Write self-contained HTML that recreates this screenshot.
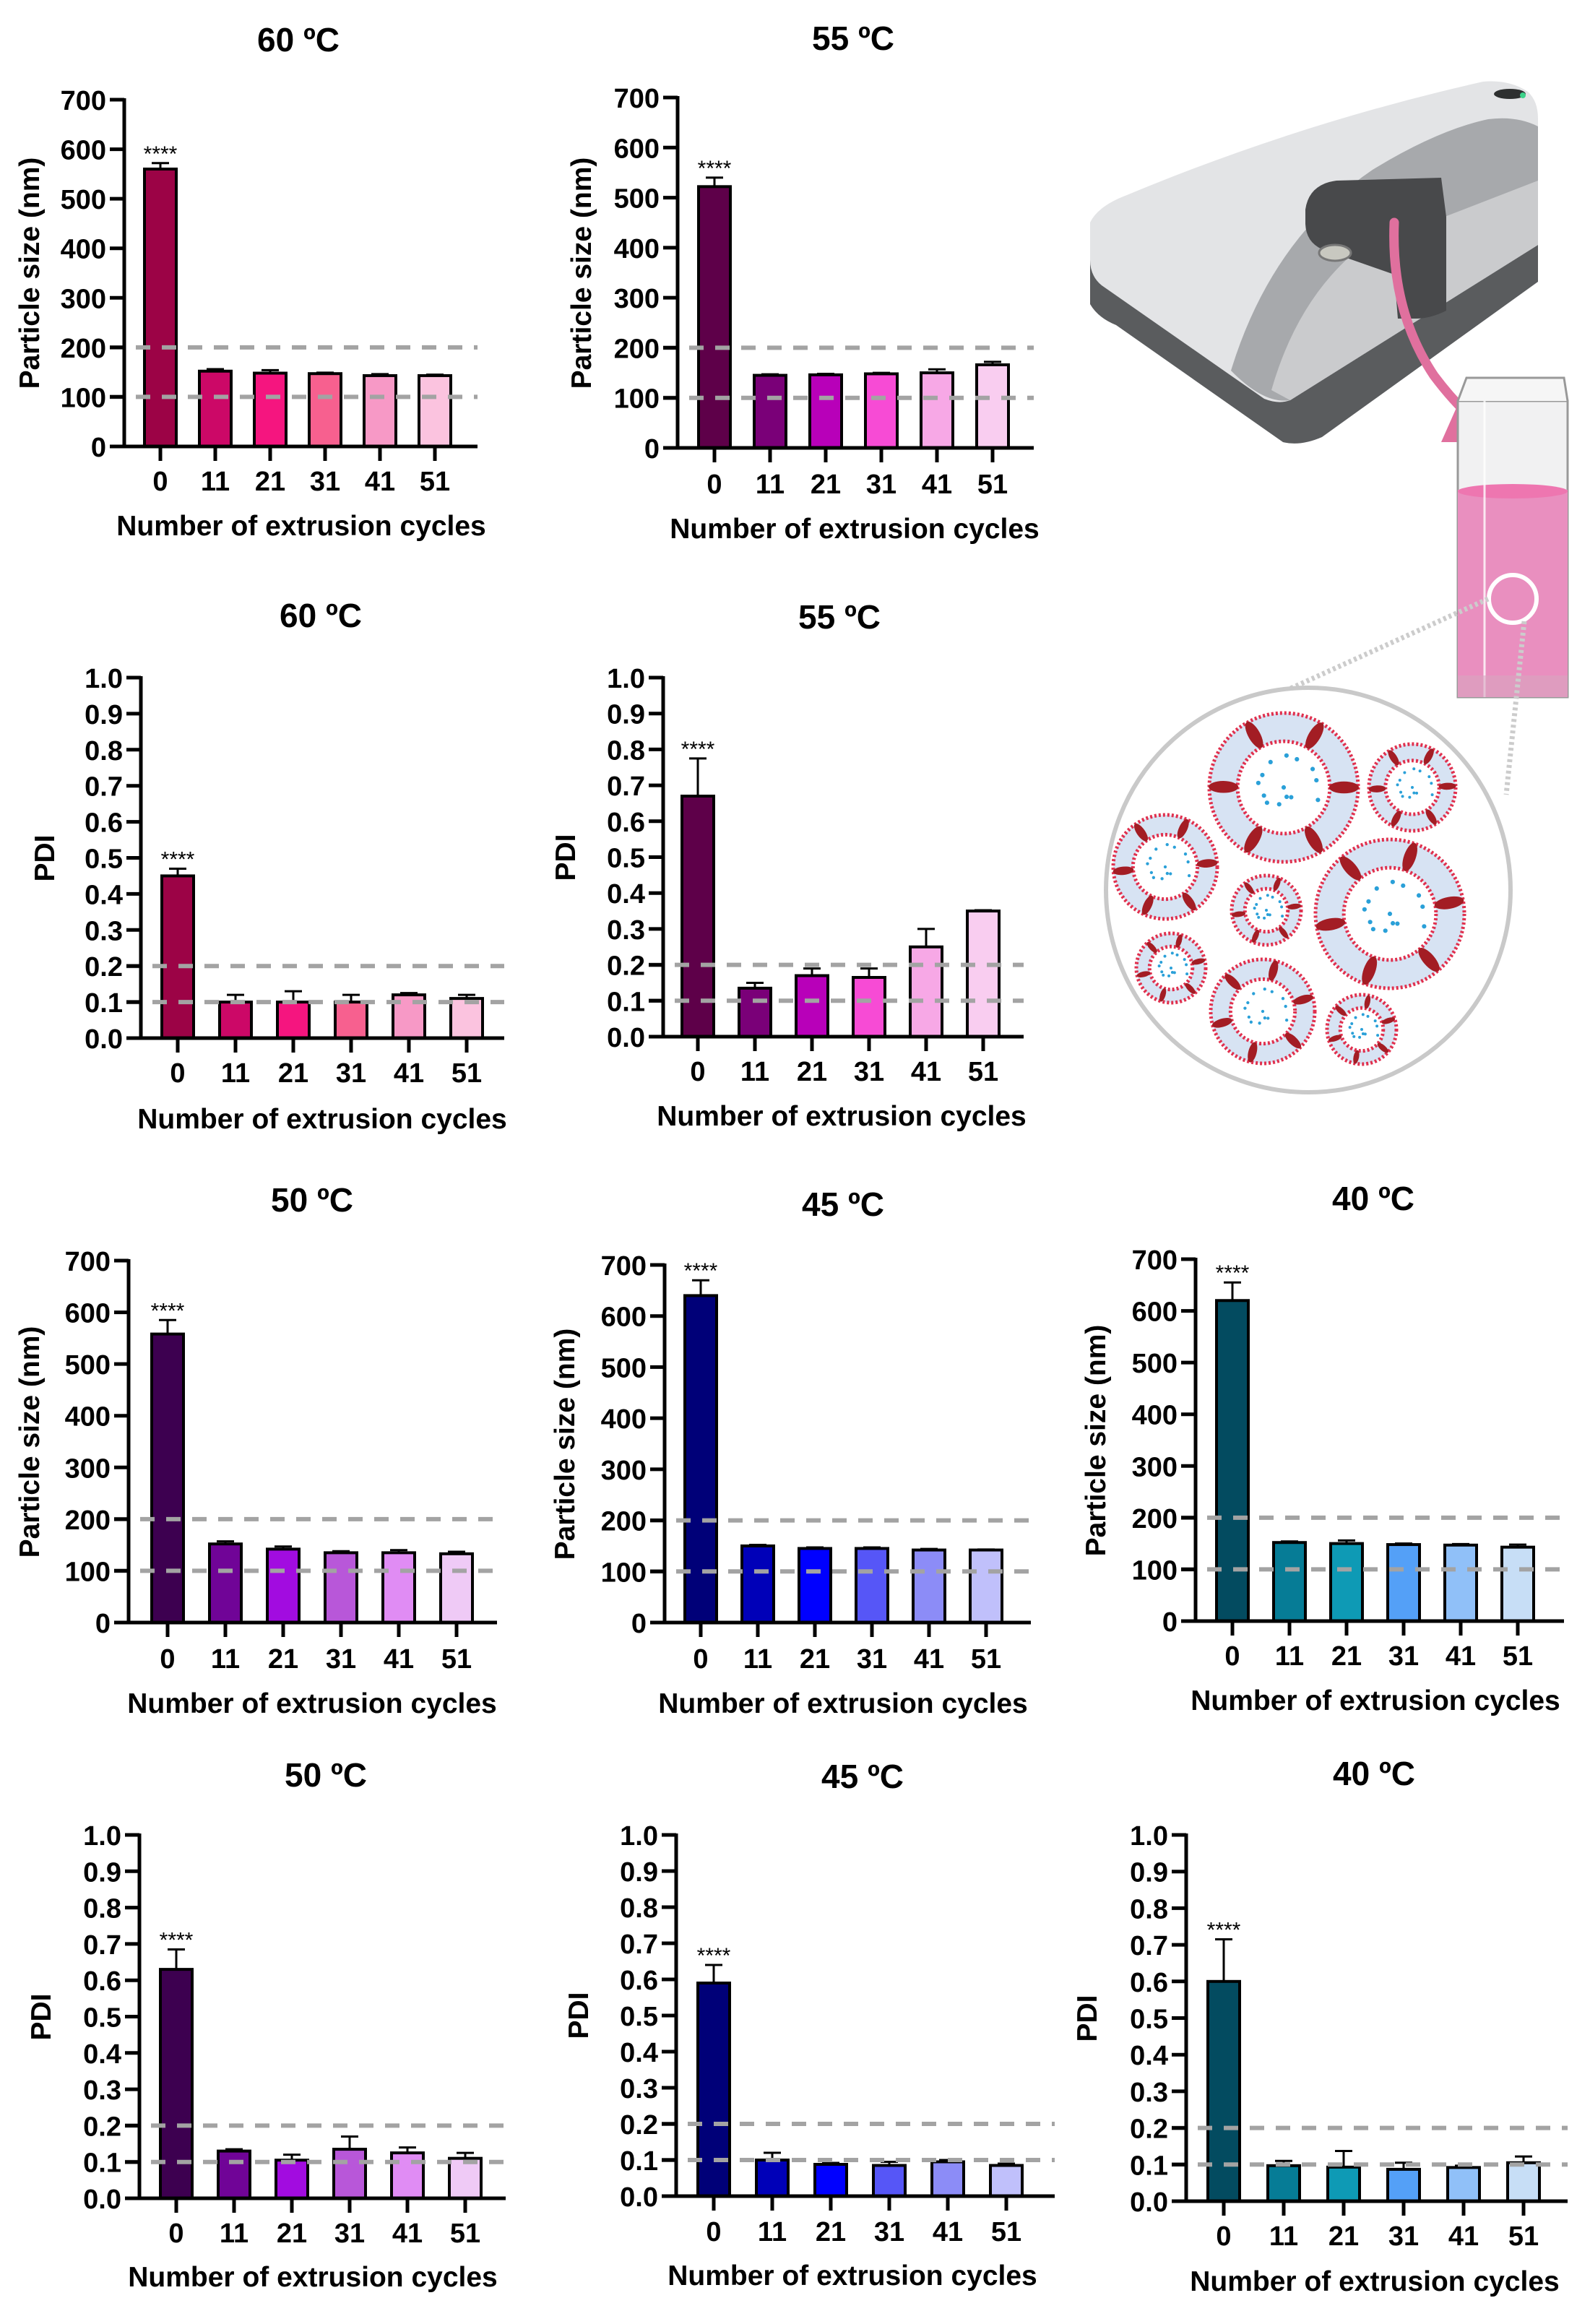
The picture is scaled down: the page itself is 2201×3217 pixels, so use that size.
<!DOCTYPE html>
<html><head><meta charset="utf-8">
<style>
html,body{margin:0;padding:0;background:#fff;}
svg{display:block;}
text{font-family:"Liberation Sans",Arial,sans-serif;fill:#000;}
.tk{font-size:38px;font-weight:bold;}
.tt{font-size:46px;font-weight:bold;}
.xl{font-size:39px;font-weight:bold;}
.st{font-size:30px;}
</style></head>
<body>
<svg id="s" width="2201" height="3217" viewBox="0 0 2201 3217" xmlns="http://www.w3.org/2000/svg">
<rect width="2201" height="3217" fill="#fff"/>
<g id="illu">
  <!-- device base -->
  <path d="M1509,360 L1509,421 Q1520,440 1545,450 L1776,612 Q1800,618 1830,605 L2129,390 L2129,320 Z" fill="#5a5c5e"/>
  <!-- device top -->
  <path d="M1509,308 Q1520,285 1560,270 Q1800,170 2053,113 Q2090,110 2115,127 Q2129,140 2129,164 L2129,339 L1786,554 Q1770,560 1750,552 L1525,395 Q1509,382 1509,360 Z" fill="#e3e4e6"/>
  <!-- swoosh -->
  <path d="M1704,513 Q1760,330 1900,235 Q1990,180 2060,165 Q2100,160 2129,175 L2129,339 L1786,554 Q1750,560 1704,513 Z" fill="#a7a9ac"/>
  <path d="M1760,540 Q1800,400 1900,330 L2000,300 L2129,250 L2129,339 L1786,554 Z" fill="#cacbcd"/>
  <!-- holder -->
  <path d="M1807,290 Q1812,255 1850,250 L1995,246 L2002,300 L2002,430 Q1980,441 1960,441 L1935,441 L1930,380 L1830,345 Q1808,335 1807,310 Z" fill="#48494b"/>
  <ellipse cx="1848" cy="350" rx="22" ry="11" fill="#c8c8c0" stroke="#777" stroke-width="3"/>
  <ellipse cx="2090" cy="130" rx="22" ry="7" fill="#2e3030"/>
  <circle cx="2108" cy="132" r="4" fill="#3cd28a"/>
  <!-- arrow -->
  <path d="M1930,308 Q1925,430 1985,520 Q2015,560 2045,585" fill="none" stroke="#e0709e" stroke-width="13" stroke-linecap="round"/>
  <path d="M2018,560 L2060,612 L1995,612 Z" fill="#e0709e"/>
  <!-- cuvette -->
  <rect x="2018" y="555" width="152" height="410" fill="#f1f1f2" stroke="#999" stroke-width="3"/>
  <rect x="2018" y="678" width="152" height="287" fill="#e98fbf"/>
  <ellipse cx="2094" cy="680" rx="76" ry="10" fill="#ee76b0"/>
  <line x1="2055" y1="555" x2="2055" y2="965" stroke="#fff" stroke-width="3" opacity="0.8"/>
  <path d="M2018,555 L2030,523 L2165,523 L2170,555" fill="#f6f6f6" stroke="#999" stroke-width="3"/>
  <rect x="2018" y="935" width="152" height="30" fill="#d8a5c0" opacity="0.6"/>
  <circle cx="2094" cy="829" r="33" fill="none" stroke="#fff" stroke-width="6"/>
  <line x1="2060" y1="829" x2="1760" y2="965" stroke="#ccc" stroke-width="7" stroke-dasharray="4 4"/>
  <line x1="2110" y1="860" x2="2085" y2="1100" stroke="#ccc" stroke-width="7" stroke-dasharray="4 4"/>
  <circle cx="1811" cy="1232" r="280" fill="#fff" stroke="#c9c9c9" stroke-width="6"/>
</g>
<g id="lipo"></g>
<g id="charts"></g>

<g id="txt">
<text class="tt" text-anchor="middle" x="413" y="71">60 ºC</text>
<text class="tt" text-anchor="middle" x="1181" y="69">55 ºC</text>
<text class="tt" text-anchor="middle" x="444" y="868">60 ºC</text>
<text class="tt" text-anchor="middle" x="1162" y="870">55 ºC</text>
<text class="tt" text-anchor="middle" x="432" y="1677">50 ºC</text>
<text class="tt" text-anchor="middle" x="1167" y="1683">45 ºC</text>
<text class="tt" text-anchor="middle" x="1901" y="1675">40 ºC</text>
<text class="tt" text-anchor="middle" x="451" y="2473">50 ºC</text>
<text class="tt" text-anchor="middle" x="1194" y="2475">45 ºC</text>
<text class="tt" text-anchor="middle" x="1902" y="2471">40 ºC</text>

<text class="xl" text-anchor="middle" x="417" y="741">Number of extrusion cycles</text>
<text class="xl" text-anchor="middle" x="1183" y="745">Number of extrusion cycles</text>
<text class="xl" text-anchor="middle" x="446" y="1562">Number of extrusion cycles</text>
<text class="xl" text-anchor="middle" x="1165" y="1558">Number of extrusion cycles</text>
<text class="xl" text-anchor="middle" x="432" y="2371">Number of extrusion cycles</text>
<text class="xl" text-anchor="middle" x="1167" y="2371">Number of extrusion cycles</text>
<text class="xl" text-anchor="middle" x="1904" y="2367">Number of extrusion cycles</text>
<text class="xl" text-anchor="middle" x="433" y="3165">Number of extrusion cycles</text>
<text class="xl" text-anchor="middle" x="1180" y="3163">Number of extrusion cycles</text>
<text class="xl" text-anchor="middle" x="1903" y="3171">Number of extrusion cycles</text>

<text class="xl" text-anchor="middle" transform="translate(54,378) rotate(-90)">Particle size (nm)</text>
<text class="xl" text-anchor="middle" transform="translate(818,378) rotate(-90)">Particle size (nm)</text>
<text class="xl" text-anchor="middle" transform="translate(75,1188) rotate(-90)">PDI</text>
<text class="xl" text-anchor="middle" transform="translate(796,1187) rotate(-90)">PDI</text>
<text class="xl" text-anchor="middle" transform="translate(54,1996) rotate(-90)">Particle size (nm)</text>
<text class="xl" text-anchor="middle" transform="translate(795,1999) rotate(-90)">Particle size (nm)</text>
<text class="xl" text-anchor="middle" transform="translate(1530,1994) rotate(-90)">Particle size (nm)</text>
<text class="xl" text-anchor="middle" transform="translate(70,2792) rotate(-90)">PDI</text>
<text class="xl" text-anchor="middle" transform="translate(814,2790) rotate(-90)">PDI</text>
<text class="xl" text-anchor="middle" transform="translate(1518,2794) rotate(-90)">PDI</text>
</g>
<g id="ticks"></g>
</svg>
<script>
var SZ=["0","100","200","300","400","500","600","700"];
var PD=["0.0","0.1","0.2","0.3","0.4","0.5","0.6","0.7","0.8","0.9","1.0"];
var XL=["0","11","21","31","41","51"];
var C60=["#9c0346","#cc0867","#f5157f","#f7608f","#f799c6","#fbc3df"];
var C55=["#5e0049","#7a0078","#b800b9","#f74bd5","#f7a8e6","#f9cdf0"];
var C50=["#3d0050","#700497","#a20ce0","#b857d9","#e08cf4","#efcaf6"];
var C45=["#000078","#0000b8","#0000ff","#5656f7","#8c8cf7","#c0c0fb"];
var C40=["#034b60","#067c96","#0e9ab5","#54a0f7","#90c0f8","#c7def6"];
var P=[
{ax:172,yt:138,y0:618,xr:661,b0:222,s:76,xt:665,p:0,c:C60,v:[560,152,148,147,143,143],e:[572,156,154,149,146,145]},
{ax:938,yt:135,y0:620,xr:1431,b0:989,s:77,xt:669,p:0,c:C55,v:[522,145,146,148,150,166],e:[540,147,148,150,157,172]},
{ax:195,yt:938,y0:1437,xr:698,b0:246,s:80,xt:1484,p:1,c:C60,v:[.45,.10,.10,.10,.12,.11],e:[.47,.12,.13,.12,.125,.12]},
{ax:918,yt:938,y0:1435,xr:1417,b0:966,s:79,xt:1482,p:1,c:C55,v:[.67,.135,.17,.165,.25,.35],e:[.775,.15,.19,.19,.30,.352]},
{ax:178,yt:1745,y0:2246,xr:688,b0:232,s:80,xt:2295,p:0,c:C50,v:[558,152,142,135,135,133],e:[585,157,147,138,140,137]},
{ax:920,yt:1751,y0:2246,xr:1427,b0:970,s:79,xt:2295,p:0,c:C45,v:[640,150,145,145,142,142],e:[670,152,147,147,144,143]},
{ax:1655,yt:1743,y0:2244,xr:2165,b0:1706,s:79,xt:2291,p:0,c:C40,v:[620,152,150,148,147,143],e:[655,154,156,150,149,148]},
{ax:193,yt:2540,y0:3043,xr:700,b0:244,s:80,xt:3090,p:1,c:C50,v:[.63,.13,.105,.135,.125,.11],e:[.685,.135,.12,.17,.14,.125]},
{ax:936,yt:2540,y0:3040,xr:1460,b0:988,s:81,xt:3088,p:1,c:C45,v:[.59,.10,.088,.085,.095,.085],e:[.64,.12,.092,.095,.10,.09]},
{ax:1642,yt:2540,y0:3047,xr:2170,b0:1694,s:83,xt:3094,p:1,c:C40,v:[.60,.097,.093,.087,.092,.105],e:[.715,.11,.137,.105,.097,.122]}
];
var NS="http://www.w3.org/2000/svg";
function el(t,a,par,txt){var e=document.createElementNS(NS,t);for(var k in a)e.setAttribute(k,a[k]);if(txt!==undefined)e.textContent=txt;par.appendChild(e);return e;}
var G=document.getElementById("charts"),T=document.getElementById("ticks");
P.forEach(function(q){
  var max=q.p?1:700;var labs=q.p?PD:SZ;var n=labs.length-1;
  var Y=function(v){return q.y0-(q.y0-q.yt)*v/max;};
  var d1=q.p?.2:200,d2=q.p?.1:100;
  for(var i=0;i<6;i++){
    var cx=q.b0+i*q.s, top=Y(q.v[i]), et=Y(q.e[i]);
    el("line",{x1:cx,y1:top,x2:cx,y2:et,stroke:"#000","stroke-width":3},G);
    el("line",{x1:cx-12,y1:et,x2:cx+12,y2:et,stroke:"#000","stroke-width":3},G);
    el("rect",{x:cx-22,y:top,width:44,height:q.y0-top,fill:q.c[i],stroke:"#000","stroke-width":4},G);
    el("line",{x1:cx,y1:q.y0,x2:cx,y2:q.y0+20,stroke:"#000","stroke-width":5},G);
    el("text",{class:"tk","text-anchor":"middle",x:cx,y:q.xt+14},T,XL[i]);
    if(i==0) el("text",{class:"st","text-anchor":"middle",x:cx,y:et-3},T,"****");
  }
  [d1,d2].forEach(function(d){el("line",{x1:q.ax-20,y1:Y(d),x2:q.xr,y2:Y(d),stroke:"#a3a3a3","stroke-width":6,"stroke-dasharray":"20 16"},G);});
  el("line",{x1:q.ax,y1:q.yt-2,x2:q.ax,y2:q.y0,stroke:"#000","stroke-width":5},G);
  el("line",{x1:q.ax-20,y1:q.y0,x2:q.xr,y2:q.y0,stroke:"#000","stroke-width":5},G);
  for(var j=0;j<=n;j++){
    var y=q.y0-(q.y0-q.yt)*j/n;
    el("line",{x1:q.ax-20,y1:y,x2:q.ax,y2:y,stroke:"#000","stroke-width":5},G);
    el("text",{class:"tk","text-anchor":"end",x:q.ax-25,y:y+14},T,labs[j]);
  }
});
var L=document.getElementById("lipo");
[[1777,1090,103],[1955,1090,60],[1613,1200,72],[1753,1260,48],[1924,1265,103],[1621,1340,48],[1748,1400,72],[1885,1425,48]].forEach(function(c,k){
  var x=c[0],y=c[1],r=c[2];
  el("circle",{cx:x,cy:y,r:r,fill:"#d7e3f3",stroke:"#e0304e","stroke-width":5,"stroke-dasharray":"3 3"},L);
  el("circle",{cx:x,cy:y,r:r*0.62,fill:"#fff",stroke:"#e0304e","stroke-width":5,"stroke-dasharray":"3 3"},L);
  for(var a=0;a<6;a++){var ang=a*1.05+k;var rr=r*0.81;
    el("ellipse",{cx:x+rr*Math.cos(ang),cy:y+rr*Math.sin(ang),rx:r*0.2,ry:r*0.08,fill:"#a31d24",transform:"rotate("+(ang*57.3)+" "+(x+rr*Math.cos(ang))+" "+(y+rr*Math.sin(ang))+")"},L);}
  for(var b=0;b<14;b++){var ra=Math.sqrt((b*0.37)%1)*r*0.5,an=b*2.4;
    el("circle",{cx:x+ra*Math.cos(an),cy:y+ra*Math.sin(an),r:Math.max(2,r*0.03),fill:"#2aa0d8"},L);}
});
</script>
</body></html>
